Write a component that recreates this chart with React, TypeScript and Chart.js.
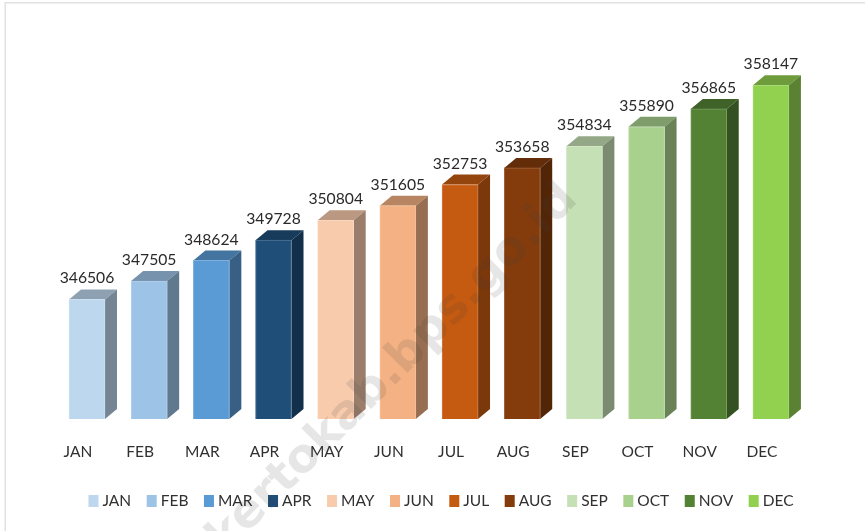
import React, { useEffect, useRef } from "react";
import { Chart, registerables } from "chart.js";

Chart.register(...registerables);

const categories = ["JAN", "FEB", "MAR", "APR", "MAY", "JUN", "JUL", "AUG", "SEP", "OCT", "NOV", "DEC"];
const values = [346506, 347505, 348624, 349728, 350804, 351605, 352753, 353658, 354834, 355890, 356865, 358147];
const colors = ["#BDD7EE", "#9DC3E6", "#5B9BD5", "#1F4E79", "#F8CBAD", "#F4B183", "#C55A11", "#843C0C", "#C5E0B4", "#A9D18E", "#548235", "#92D050"];
const watermark = "mojokertokab.bps.go.id";

const FONT = "Lato, Carlito, sans-serif";
const DEPTH_X = 12;
const DEPTH_Y = 10;
const AXIS_MIN = 340000;
const AXIS_MAX = 360000;

function shade(hex: string, f: number) {
  const n = parseInt(hex.slice(1), 16);
  const r = Math.round(((n >> 16) & 255) * f);
  const g = Math.round(((n >> 8) & 255) * f);
  const b = Math.round((n & 255) * f);
  return `rgb(${r},${g},${b})`;
}

function tint(hex: string, f: number) {
  const n = parseInt(hex.slice(1), 16);
  const mix = (v: number) => Math.round(v + (255 - v) * f);
  return `rgb(${mix((n >> 16) & 255)},${mix((n >> 8) & 255)},${mix(n & 255)})`;
}

const framePlugin = {
  id: "frame",
  beforeDraw(chart: any) {
    const { ctx, width, height } = chart;
    ctx.save();
    ctx.fillStyle = "#FFFFFF";
    ctx.fillRect(0, 0, width, height);
    ctx.fillStyle = "#E2E2E2";
    ctx.fillRect(5, 2, width - 5, 1.5);
    ctx.fillRect(4.5, 2, 1.5, height - 2);
    ctx.restore();
  },
};

const bars3dPlugin = {
  id: "bars3d",
  beforeDatasetsDraw(chart: any) {
    const { ctx } = chart;
    const meta = chart.getDatasetMeta(0);
    meta.data.forEach((bar: any, i: number) => {
      const left = bar.x - bar.width / 2;
      const right = bar.x + bar.width / 2;
      const top = bar.y;
      const base = chart.scales.y.getPixelForValue(AXIS_MIN);
      ctx.save();
      ctx.fillStyle = shade(colors[i], 0.75);
      ctx.beginPath();
      ctx.moveTo(left, top);
      ctx.lineTo(left + DEPTH_X, top - DEPTH_Y);
      ctx.lineTo(right + DEPTH_X, top - DEPTH_Y);
      ctx.lineTo(right, top);
      ctx.closePath();
      ctx.fill();
      ctx.fillStyle = shade(colors[i], 0.62);
      ctx.beginPath();
      ctx.moveTo(right, top);
      ctx.lineTo(right + DEPTH_X, top - DEPTH_Y);
      ctx.lineTo(right + DEPTH_X, base - DEPTH_Y);
      ctx.lineTo(right, base);
      ctx.closePath();
      ctx.fill();
      ctx.restore();
    });
  },
  afterDatasetsDraw(chart: any) {
    const { ctx } = chart;
    const meta = chart.getDatasetMeta(0);
    ctx.save();
    ctx.font = `15.7px ${FONT}`;
    ctx.fillStyle = "#2A2A2A";
    ctx.textAlign = "center";
    ctx.textBaseline = "middle";
    meta.data.forEach((bar: any, i: number) => {
      ctx.fillText(String(values[i]), bar.x, bar.y - 21);
    });
    ctx.restore();
  },
};

const legendPlugin = {
  id: "flowLegend",
  afterDraw(chart: any) {
    const { ctx } = chart;
    const box = 10;
    const textGap = 4;
    const itemGap = 15.5;
    ctx.save();
    ctx.font = `15.5px ${FONT}`;
    ctx.textBaseline = "middle";
    ctx.textAlign = "left";
    const widths = categories.map((c) => ctx.measureText(c).width);
    const total = widths.reduce((s, w) => s + box + textGap + w + itemGap, -itemGap);
    let x = 441 - total / 2;
    categories.forEach((c, i) => {
      ctx.fillStyle = colors[i];
      ctx.fillRect(x, 495, box, 12);
      ctx.fillStyle = "#303030";
      ctx.fillText(c, x + box + textGap, 501);
      x += box + textGap + widths[i] + itemGap;
    });
    ctx.restore();
  },
};

const watermarkPlugin = {
  id: "watermark",
  afterDraw(chart: any) {
    const { ctx } = chart;
    ctx.save();
    ctx.translate(579, 201);
    ctx.rotate(-Math.PI / 4);
    ctx.font = "bold 47px 'DejaVu Sans', sans-serif";
    ctx.fillStyle = "rgba(60,60,60,0.13)";
    ctx.textAlign = "right";
    ctx.textBaseline = "alphabetic";
    ctx.fillText(watermark, 0, 0);
    ctx.restore();
  },
};

export default function App() {
  const ref = useRef<HTMLCanvasElement | null>(null);

  useEffect(() => {
    if (!ref.current) return;
    const chart = new Chart(ref.current, {
      type: "bar",
      data: {
        labels: categories,
        datasets: [
          {
            data: values,
            backgroundColor: colors,
            borderColor: colors.map((c) => tint(c, 0.22)),
            borderWidth: 1,
            barThickness: 36,
            base: AXIS_MIN,
          },
        ],
      },
      options: {
        responsive: false,
        animation: false,
        layout: { padding: { left: 55.9, right: 63, top: 51.3, bottom: 52 } },
        plugins: {
          tooltip: { enabled: false },
          title: { display: false },
          legend: { display: false },
        },
        scales: {
          x: {
            grid: { display: false },
            border: { display: false },
            afterFit: (s: any) => {
              s.height = 60;
            },
            ticks: {
              padding: 16,
              labelOffset: -9,
              maxRotation: 0,
              autoSkip: false,
              color: "#303030",
              font: { family: FONT, size: 15.5 },
            },
          },
          y: { display: false, min: AXIS_MIN, max: AXIS_MAX },
        },
      },
      plugins: [framePlugin, bars3dPlugin, legendPlugin, watermarkPlugin],
    } as any);
    return () => chart.destroy();
  }, []);

  return (
    <canvas
      ref={ref}
      width={865}
      height={531}
      style={{ position: "fixed", left: 0, top: 0, display: "block" }}
    />
  );
}
